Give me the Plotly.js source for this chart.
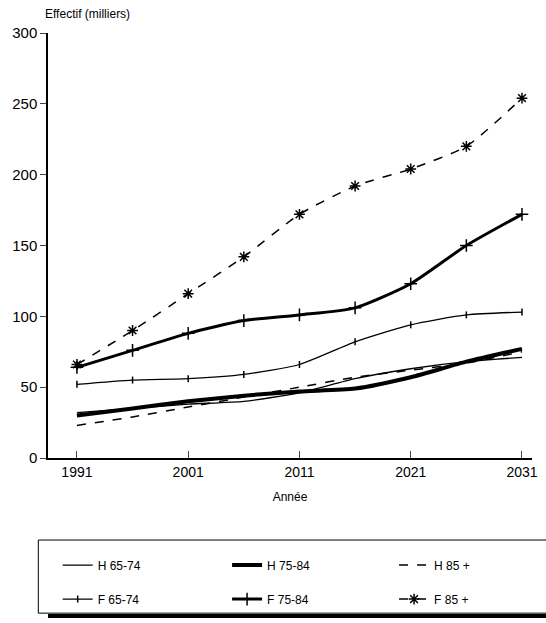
<!DOCTYPE html>
<html>
<head>
<meta charset="utf-8">
<script src="https://cdn.plot.ly/plotly-3.0.1.min.js"></script>
<style>body{margin:0;background:#fff}#chart{width:546px;height:623px}</style>
</head>
<body>
<div id="chart"></div>
<script>
const years = [1991, 1996, 2001, 2006, 2011, 2016, 2021, 2026, 2031];
const h6574 = [32, 35, 38, 40, 46, 56, 63, 68, 71];
const h7584 = [30, 35, 40, 44, 47, 49, 57, 68, 77];
const h85 = [23, 29, 36, 43, 50, 57, 62, 67, 75];
const f6574 = [52, 55, 56, 59, 66, 82, 94, 101, 103];
const f7584 = [64, 76, 88, 97, 101, 106, 123, 150, 172];
const f85 = [66, 90, 116, 142, 172, 192, 204, 220, 254];

const trace = (y, name, width, dash, legend, symbol, size) => {
    const t = {
        x: years, y: y, name: name, type: 'scatter', legend: legend,
        mode: symbol ? 'lines+markers' : 'lines',
        line: {color: '#000', width: width, dash: dash, shape: 'spline', smoothing: 0.6}
    };
    if (symbol) t.marker = {symbol: symbol, size: size, color: '#000', line: {color: '#000', width: 1.5}};
    return t;
};

const data = [
    trace(h6574, 'H 65-74', 1.3, 'solid', 'legend'),
    trace(h7584, 'H 75-84', 4, 'solid', 'legend2'),
    trace(h85, 'H 85 +', 1.5, 'dash', 'legend3'),
    trace(f6574, 'F 65-74', 1.3, 'solid', 'legend4', 'line-ns', 5),
    trace(f7584, 'F 75-84', 3, 'solid', 'legend5', 'cross-thin-open', 9),
    trace(f85, 'F 85 +', 1.5, 'dash', 'legend6', 'asterisk-open', 9)
];

const leg = (x, y) => ({
    x: x, y: y, yanchor: 'middle', font: {size: 12}, bgcolor: 'rgba(0,0,0,0)'
});
const colX = [0.02, 0.37, 0.715];
const rowY = [-0.252, -0.332];

const layout = {
    width: 546, height: 623,
    margin: {l: 48, r: 14, t: 33, b: 165, autoexpand: false},
    paper_bgcolor: '#fff', plot_bgcolor: '#fff',
    font: {family: 'Liberation Sans, Arial, sans-serif', color: '#000', size: 13},
    showlegend: true,
    legend: leg(colX[0], rowY[0]),
    legend2: leg(colX[1], rowY[0]),
    legend3: leg(colX[2], rowY[0]),
    legend4: leg(colX[0], rowY[1]),
    legend5: leg(colX[1], rowY[1]),
    legend6: leg(colX[2], rowY[1]),
    xaxis: {
        range: [1988.4, 2031.9], tickvals: [1991, 2001, 2011, 2021, 2031],
        showline: true, linecolor: '#000', linewidth: 1.5, showgrid: false, zeroline: false,
        ticks: 'inside', ticklen: 7, tickfont: {size: 14},
        title: {text: 'Année', font: {size: 12}, standoff: 14}
    },
    yaxis: {
        range: [0, 300], dtick: 50,
        showline: true, linecolor: '#000', linewidth: 1.5, showgrid: false, zeroline: false,
        ticks: 'outside', ticklen: 6, tickfont: {size: 15}
    },
    annotations: [{
        text: 'Effectif (milliers)', xref: 'paper', yref: 'paper', x: 0, y: 1,
        xanchor: 'left', yanchor: 'bottom', yshift: 10, xshift: -5, showarrow: false, font: {size: 12}
    }],
    shapes: [
        {type: 'rect', xref: 'paper', yref: 'paper', x0: -0.02, x1: 1.03, y0: -0.365, y1: -0.193,
         line: {color: '#000', width: 1}},
        {type: 'line', xref: 'paper', yref: 'paper', x0: 0.0, x1: 1.03, y0: -0.372, y1: -0.372,
         line: {color: '#000', width: 4}}
    ]
};

Plotly.newPlot('chart', data, layout, {displayModeBar: false});
</script>
</body>
</html>
